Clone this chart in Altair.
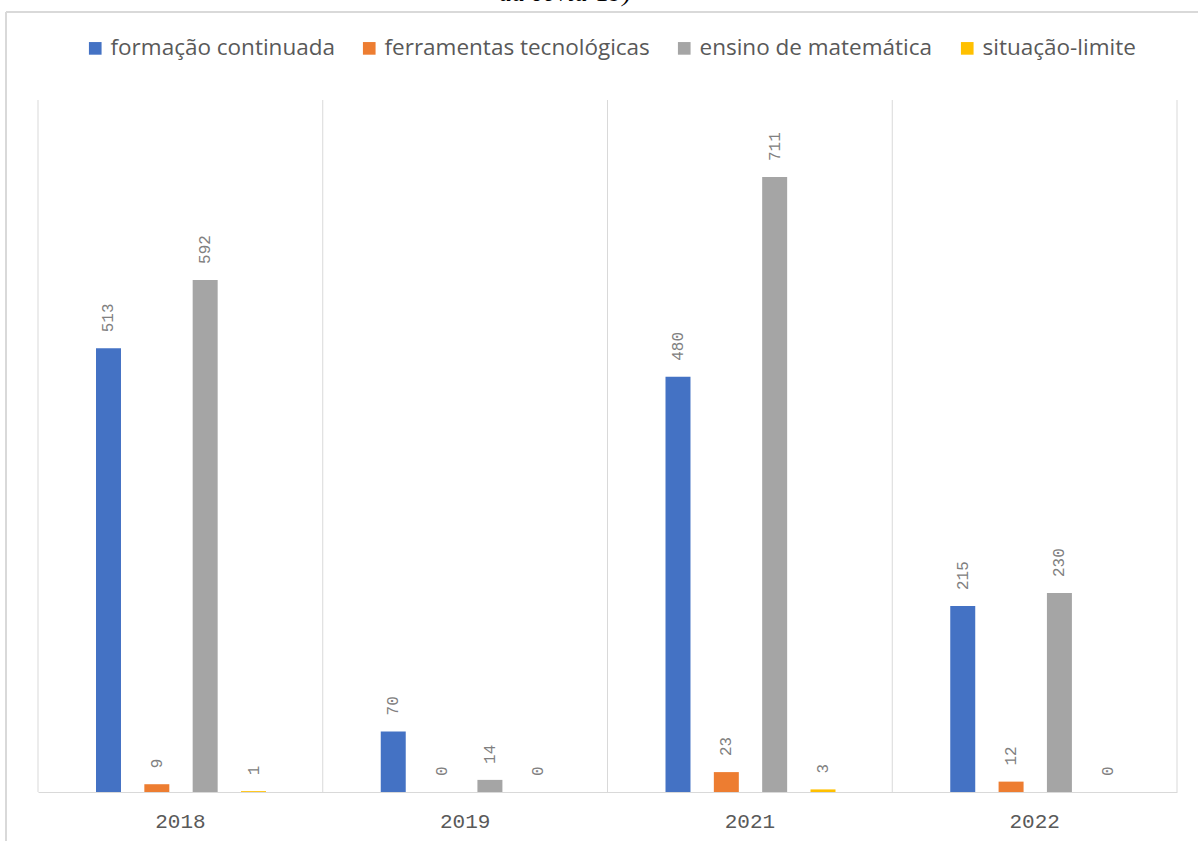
import altair as alt
import pandas as pd

years = ["2018", "2019", "2021", "2022"]
series = ["formação continuada", "ferramentas tecnológicas", "ensino de matemática", "situação-limite"]
formacao = [513, 70, 480, 215]
ferramentas = [9, 0, 23, 12]
ensino = [592, 14, 711, 230]
situacao = [1, 0, 3, 0]
colors = ["#4472C4", "#ED7D31", "#A5A5A5", "#FFC000"]
title_fragment = "da covid-19)"

rows = []
for s, vals in zip(series, [formacao, ferramentas, ensino, situacao]):
    for y, v in zip(years, vals):
        rows.append({"year": y, "series": s, "value": v})
df = pd.DataFrame(rows)
years_df = pd.DataFrame({"year": years})
one = pd.DataFrame({"k": [0]})

W, H = 1139, 692
GRID = "#d9d9d9"

x_enc = alt.X("year:N", sort=years, scale=alt.Scale(paddingInner=0, paddingOuter=0),
              axis=alt.Axis(title=None, labelAngle=0, ticks=False, domainColor=GRID, domainWidth=1,
                            labelFont="Liberation Mono", labelFontSize=21, labelColor="#595959",
                            labelAlign="center", bandPosition=0.5,
                            labelPadding=29, grid=False))
xo_enc = alt.XOffset("series:N", sort=series,
                     scale=alt.Scale(range=[58, 228], paddingInner=0.483, paddingOuter=0))
y_enc = alt.Y("value:Q", scale=alt.Scale(domain=[0, 800]), axis=None)

grid = alt.Chart(years_df).mark_rule(color=GRID, strokeWidth=1).encode(
    x=alt.X("year:N", sort=years, bandPosition=0)
)
grid_right = alt.Chart(one).mark_rule(color=GRID, strokeWidth=1).encode(x=alt.value(W))

bars = alt.Chart(df).mark_bar().encode(
    x=x_enc,
    xOffset=xo_enc,
    y=y_enc,
    color=alt.Color("series:N", sort=series, scale=alt.Scale(domain=series, range=colors),
                    legend=alt.Legend(title=None, orient="none", direction="horizontal",
                                      legendX=46, legendY=-63, symbolType="square",
                                      symbolSize=160, symbolStrokeWidth=0,
                                      labelFont="Open Sans", labelFontSize=22.5,
                                      labelColor="#595959", columnPadding=23,
                                      labelLimit=400)),
)

labels = alt.Chart(df).mark_text(angle=270, align="left", baseline="middle", dx=16,
                                 font="Liberation Mono", fontSize=16, color="#808080").encode(
    x=alt.X("year:N", sort=years),
    xOffset=alt.XOffset("series:N", sort=series),
    y="value:Q",
    text="value:Q",
)

border_top = alt.Chart(one).mark_rule(color=GRID, strokeWidth=2).encode(
    x=alt.value(-32), x2=alt.value(W + 30), y=alt.value(-88))
border_left = alt.Chart(one).mark_rule(color=GRID, strokeWidth=2).encode(
    x=alt.value(-32), y=alt.value(-88), y2=alt.value(H + 60))
frag = alt.Chart(one).mark_text(font="Liberation Serif", fontStyle="italic", fontSize=26,
                                align="center", baseline="alphabetic", color="#000000").encode(
    x=alt.value(527), y=alt.value(-99), text=alt.value(title_fragment))

chart = alt.layer(grid, grid_right, bars, labels, border_top, border_left, frag).properties(
    width=W, height=H,
    padding={"left": 38, "top": 100, "right": 21, "bottom": 49},
    autosize=alt.AutoSizeParams(type="none"),
).configure(background="white", view=alt.ViewConfig(stroke=None))

chart.save("out.html", embed_options={"renderer": "svg", "actions": False})
